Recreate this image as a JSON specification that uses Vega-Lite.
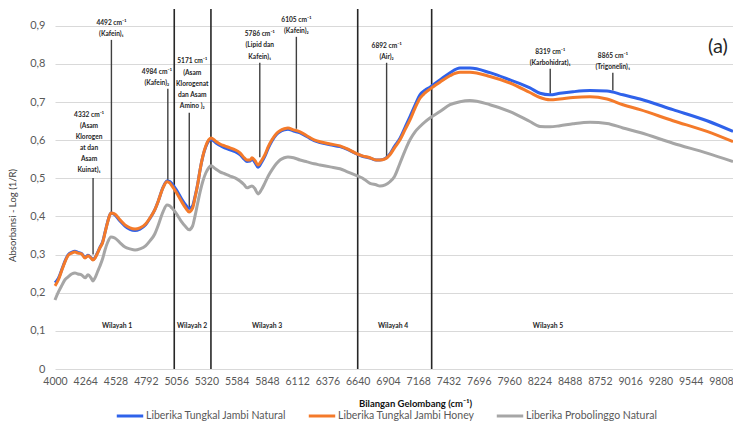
{
  "$schema": "https://vega.github.io/schema/vega-lite/v6.json",
  "width": 678,
  "height": 360,
  "autosize": {"type": "none"},
  "padding": {"left": 55, "top": 9, "right": 0, "bottom": 55},
  "background": "white",
  "config": {
    "view": {"stroke": null},
    "font": "Lato",
    "axisX": {
      "grid": false, "domain": false, "ticks": false, "tickCount": 40,
      "labelFont": "Lato", "labelFontSize": 10.5, "labelColor": "#595959",
      "labelPadding": 7, "labelOverlap": false, "labelFlush": false, "labelBound": false,
      "titleFont": "Lato", "titleFontSize": 9.5, "titleFontWeight": "bold", "titleColor": "#111111",
      "titleX": 360, "titleY": 34, "titleBaseline": "middle", "titleAlign": "center"
    },
    "axisY": {
      "grid": true, "gridColor": "#d9d9d9", "gridWidth": 1, "tickCount": 20,
      "domain": false, "ticks": false, "labelOverlap": false,
      "labelFont": "Lato", "labelFontSize": 11, "labelColor": "#595959", "labelPadding": 10,
      "titleFont": "Lato", "titleFontSize": 9.5, "titleFontWeight": "normal", "titleColor": "#404040",
      "titleX": -43, "titleY": 206, "titleAngle": -90, "titleBaseline": "middle", "titleAlign": "center"
    }
  },
  "datasets": {
    "spectra": [
      {"w": 4000, "natural": 0.226, "honey": 0.218, "probolinggo": 0.181},
      {"w": 4030, "natural": 0.238, "honey": 0.234, "probolinggo": 0.202},
      {"w": 4061, "natural": 0.262, "honey": 0.260, "probolinggo": 0.220},
      {"w": 4087, "natural": 0.283, "honey": 0.281, "probolinggo": 0.234},
      {"w": 4113, "natural": 0.299, "honey": 0.297, "probolinggo": 0.241},
      {"w": 4145, "natural": 0.306, "honey": 0.304, "probolinggo": 0.249},
      {"w": 4174, "natural": 0.309, "honey": 0.307, "probolinggo": 0.252},
      {"w": 4200, "natural": 0.306, "honey": 0.304, "probolinggo": 0.249},
      {"w": 4231, "natural": 0.303, "honey": 0.302, "probolinggo": 0.247},
      {"w": 4262, "natural": 0.293, "honey": 0.291, "probolinggo": 0.239},
      {"w": 4288, "natural": 0.298, "honey": 0.297, "probolinggo": 0.247},
      {"w": 4314, "natural": 0.292, "honey": 0.291, "probolinggo": 0.239},
      {"w": 4330, "natural": 0.287, "honey": 0.286, "probolinggo": 0.231},
      {"w": 4349, "natural": 0.292, "honey": 0.291, "probolinggo": 0.239},
      {"w": 4371, "natural": 0.305, "honey": 0.304, "probolinggo": 0.255},
      {"w": 4392, "natural": 0.319, "honey": 0.318, "probolinggo": 0.270},
      {"w": 4415, "natural": 0.333, "honey": 0.331, "probolinggo": 0.289},
      {"w": 4436, "natural": 0.358, "honey": 0.357, "probolinggo": 0.312},
      {"w": 4460, "natural": 0.387, "honey": 0.386, "probolinggo": 0.333},
      {"w": 4488, "natural": 0.409, "honey": 0.409, "probolinggo": 0.346},
      {"w": 4519, "natural": 0.405, "honey": 0.407, "probolinggo": 0.344},
      {"w": 4567, "natural": 0.388, "honey": 0.391, "probolinggo": 0.331},
      {"w": 4610, "natural": 0.375, "honey": 0.378, "probolinggo": 0.320},
      {"w": 4654, "natural": 0.366, "honey": 0.370, "probolinggo": 0.315},
      {"w": 4698, "natural": 0.363, "honey": 0.367, "probolinggo": 0.312},
      {"w": 4741, "natural": 0.367, "honey": 0.370, "probolinggo": 0.315},
      {"w": 4790, "natural": 0.378, "honey": 0.380, "probolinggo": 0.323},
      {"w": 4828, "natural": 0.395, "honey": 0.396, "probolinggo": 0.336},
      {"w": 4870, "natural": 0.417, "honey": 0.417, "probolinggo": 0.354},
      {"w": 4898, "natural": 0.438, "honey": 0.438, "probolinggo": 0.375},
      {"w": 4942, "natural": 0.476, "honey": 0.475, "probolinggo": 0.412},
      {"w": 4977, "natural": 0.493, "honey": 0.491, "probolinggo": 0.430},
      {"w": 5000, "natural": 0.492, "honey": 0.488, "probolinggo": 0.428},
      {"w": 5020, "natural": 0.486, "honey": 0.480, "probolinggo": 0.422},
      {"w": 5060, "natural": 0.469, "honey": 0.462, "probolinggo": 0.407},
      {"w": 5100, "natural": 0.448, "honey": 0.441, "probolinggo": 0.388},
      {"w": 5140, "natural": 0.430, "honey": 0.422, "probolinggo": 0.373},
      {"w": 5169, "natural": 0.421, "honey": 0.412, "probolinggo": 0.365},
      {"w": 5200, "natural": 0.428, "honey": 0.422, "probolinggo": 0.375},
      {"w": 5221, "natural": 0.452, "honey": 0.449, "probolinggo": 0.401},
      {"w": 5245, "natural": 0.486, "honey": 0.485, "probolinggo": 0.436},
      {"w": 5265, "natural": 0.522, "honey": 0.522, "probolinggo": 0.464},
      {"w": 5290, "natural": 0.558, "honey": 0.559, "probolinggo": 0.493},
      {"w": 5315, "natural": 0.583, "honey": 0.585, "probolinggo": 0.514},
      {"w": 5340, "natural": 0.598, "honey": 0.601, "probolinggo": 0.527},
      {"w": 5360, "natural": 0.602, "honey": 0.606, "probolinggo": 0.533},
      {"w": 5399, "natural": 0.594, "honey": 0.598, "probolinggo": 0.525},
      {"w": 5439, "natural": 0.586, "honey": 0.590, "probolinggo": 0.517},
      {"w": 5479, "natural": 0.580, "honey": 0.585, "probolinggo": 0.512},
      {"w": 5526, "natural": 0.575, "honey": 0.580, "probolinggo": 0.506},
      {"w": 5570, "natural": 0.570, "honey": 0.575, "probolinggo": 0.501},
      {"w": 5613, "natural": 0.562, "honey": 0.567, "probolinggo": 0.493},
      {"w": 5650, "natural": 0.550, "honey": 0.554, "probolinggo": 0.483},
      {"w": 5674, "natural": 0.544, "honey": 0.548, "probolinggo": 0.475},
      {"w": 5701, "natural": 0.545, "honey": 0.548, "probolinggo": 0.478},
      {"w": 5718, "natural": 0.550, "honey": 0.554, "probolinggo": 0.480},
      {"w": 5745, "natural": 0.541, "honey": 0.546, "probolinggo": 0.472},
      {"w": 5770, "natural": 0.529, "honey": 0.535, "probolinggo": 0.459},
      {"w": 5800, "natural": 0.541, "honey": 0.546, "probolinggo": 0.470},
      {"w": 5831, "natural": 0.558, "honey": 0.562, "probolinggo": 0.488},
      {"w": 5860, "natural": 0.579, "honey": 0.583, "probolinggo": 0.506},
      {"w": 5892, "natural": 0.598, "honey": 0.601, "probolinggo": 0.522},
      {"w": 5930, "natural": 0.614, "honey": 0.617, "probolinggo": 0.538},
      {"w": 5962, "natural": 0.622, "honey": 0.625, "probolinggo": 0.548},
      {"w": 6000, "natural": 0.627, "honey": 0.630, "probolinggo": 0.554},
      {"w": 6032, "natural": 0.629, "honey": 0.632, "probolinggo": 0.556},
      {"w": 6080, "natural": 0.624, "honey": 0.627, "probolinggo": 0.554},
      {"w": 6137, "natural": 0.619, "honey": 0.622, "probolinggo": 0.548},
      {"w": 6199, "natural": 0.609, "honey": 0.611, "probolinggo": 0.543},
      {"w": 6260, "natural": 0.599, "honey": 0.601, "probolinggo": 0.538},
      {"w": 6311, "natural": 0.594, "honey": 0.596, "probolinggo": 0.535},
      {"w": 6400, "natural": 0.588, "honey": 0.590, "probolinggo": 0.530},
      {"w": 6485, "natural": 0.583, "honey": 0.585, "probolinggo": 0.525},
      {"w": 6550, "natural": 0.576, "honey": 0.577, "probolinggo": 0.517},
      {"w": 6616, "natural": 0.566, "honey": 0.567, "probolinggo": 0.509},
      {"w": 6680, "natural": 0.558, "honey": 0.559, "probolinggo": 0.501},
      {"w": 6747, "natural": 0.553, "honey": 0.554, "probolinggo": 0.487},
      {"w": 6800, "natural": 0.548, "honey": 0.548, "probolinggo": 0.483},
      {"w": 6834, "natural": 0.548, "honey": 0.548, "probolinggo": 0.480},
      {"w": 6880, "natural": 0.552, "honey": 0.551, "probolinggo": 0.483},
      {"w": 6921, "natural": 0.564, "honey": 0.562, "probolinggo": 0.491},
      {"w": 6961, "natural": 0.584, "honey": 0.580, "probolinggo": 0.505},
      {"w": 7009, "natural": 0.605, "honey": 0.601, "probolinggo": 0.540},
      {"w": 7052, "natural": 0.633, "honey": 0.627, "probolinggo": 0.572},
      {"w": 7096, "natural": 0.662, "honey": 0.653, "probolinggo": 0.601},
      {"w": 7140, "natural": 0.692, "honey": 0.684, "probolinggo": 0.622},
      {"w": 7183, "natural": 0.719, "honey": 0.710, "probolinggo": 0.636},
      {"w": 7227, "natural": 0.731, "honey": 0.724, "probolinggo": 0.648},
      {"w": 7270, "natural": 0.739, "honey": 0.734, "probolinggo": 0.658},
      {"w": 7357, "natural": 0.758, "honey": 0.752, "probolinggo": 0.675},
      {"w": 7445, "natural": 0.777, "honey": 0.769, "probolinggo": 0.693},
      {"w": 7532, "natural": 0.789, "honey": 0.778, "probolinggo": 0.701},
      {"w": 7619, "natural": 0.789, "honey": 0.778, "probolinggo": 0.704},
      {"w": 7793, "natural": 0.777, "honey": 0.767, "probolinggo": 0.693},
      {"w": 7968, "natural": 0.758, "honey": 0.750, "probolinggo": 0.675},
      {"w": 8142, "natural": 0.737, "honey": 0.725, "probolinggo": 0.649},
      {"w": 8230, "natural": 0.723, "honey": 0.712, "probolinggo": 0.636},
      {"w": 8317, "natural": 0.719, "honey": 0.706, "probolinggo": 0.635},
      {"w": 8404, "natural": 0.723, "honey": 0.708, "probolinggo": 0.638},
      {"w": 8517, "natural": 0.727, "honey": 0.712, "probolinggo": 0.643},
      {"w": 8666, "natural": 0.730, "honey": 0.714, "probolinggo": 0.647},
      {"w": 8814, "natural": 0.729, "honey": 0.708, "probolinggo": 0.644},
      {"w": 8953, "natural": 0.719, "honey": 0.693, "probolinggo": 0.632},
      {"w": 9102, "natural": 0.708, "honey": 0.680, "probolinggo": 0.620},
      {"w": 9389, "natural": 0.680, "honey": 0.651, "probolinggo": 0.592},
      {"w": 9686, "natural": 0.651, "honey": 0.623, "probolinggo": 0.566},
      {"w": 9913, "natural": 0.623, "honey": 0.596, "probolinggo": 0.544}
    ],
    "dividers": [{"w": 5040}, {"w": 5360}, {"w": 6640}, {"w": 7285}],
    "regions": [
      {"w": 4541, "name": "Wilayah 1"},
      {"w": 5195, "name": "Wilayah 2"},
      {"w": 5849, "name": "Wilayah 3"},
      {"w": 6948, "name": "Wilayah 4"},
      {"w": 8299, "name": "Wilayah 5"}
    ],
    "peaks": [
      {"w": 4332, "top": 0.501, "bottom": 0.300, "label": "4332 cm⁻¹\n(Asam\nKlorogen\nat dan\nAsam\nKuinat)₁"},
      {"w": 4492, "top": 0.863, "bottom": 0.410, "label": "4492 cm⁻¹\n(Kafein)₁"},
      {"w": 4984, "top": 0.735, "bottom": 0.490, "label": "4984 cm⁻¹\n(Kafein)₂"},
      {"w": 5171, "top": 0.672, "bottom": 0.420, "label": "5171 cm⁻¹\n(Asam\nKlorogenat\ndan Asam\nAmino )₂"},
      {"w": 5786, "top": 0.803, "bottom": 0.555, "label": "5786 cm⁻¹\n(Lipid dan\nKafein)₁"},
      {"w": 6105, "top": 0.871, "bottom": 0.630, "label": "6105 cm⁻¹\n(Kafein)₂"},
      {"w": 6892, "top": 0.803, "bottom": 0.555, "label": "6892 cm⁻¹\n(Air)₂"},
      {"w": 8319, "top": 0.787, "bottom": 0.722, "label": "8319 cm⁻¹\n(Karbohidrat)₁"},
      {"w": 8865, "top": 0.777, "bottom": 0.730, "label": "8865 cm⁻¹\n(Trigonelin)₁"}
    ],
    "panel": [{"tag": "(a)"}]
  },
  "layer": [
    {
      "data": {"name": "dividers"},
      "mark": {"type": "rule", "color": "#262626", "strokeWidth": 1.6},
      "encoding": {
        "x": {"field": "w", "type": "quantitative", "scale": {"domain": [4000, 9913], "nice": false, "zero": false}, "axis": {"values": [4000, 4264, 4528, 4792, 5056, 5320, 5584, 5848, 6112, 6376, 6640, 6904, 7168, 7432, 7696, 7960, 8224, 8488, 8752, 9016, 9280, 9544, 9808], "format": "d", "labelOverlap": false, "tickCount": 40}, "title": "Bilangan Gelombang (cm⁻¹)"}
      }
    },
    {
      "data": {"name": "peaks"},
      "mark": {"type": "rule", "color": "#404040", "strokeWidth": 1.4},
      "encoding": {
        "x": {"field": "w", "type": "quantitative", "scale": {"domain": [4000, 9913], "nice": false, "zero": false}, "axis": {"values": [4000, 4264, 4528, 4792, 5056, 5320, 5584, 5848, 6112, 6376, 6640, 6904, 7168, 7432, 7696, 7960, 8224, 8488, 8752, 9016, 9280, 9544, 9808], "format": "d", "labelOverlap": false, "tickCount": 40}, "title": "Bilangan Gelombang (cm⁻¹)"},
        "y": {"field": "top", "type": "quantitative", "scale": {"domain": [0, 0.944], "nice": false, "zero": true}, "axis": {"values": [0, 0.1, 0.2, 0.3, 0.4, 0.5, 0.6, 0.7, 0.8, 0.9], "labelExpr": "datum.value == 0 ? '0' : replace(format(datum.value, '.1f'), '.', ',')", "labelOverlap": false, "grid": true, "tickCount": 20}, "title": "Absorbansi - Log (1/R)"},
        "y2": {"field": "bottom"}
      }
    },
    {
      "data": {"name": "spectra"},
      "mark": {"type": "line", "strokeWidth": 3, "interpolate": "monotone"},
      "encoding": {
        "x": {"field": "w", "type": "quantitative", "scale": {"domain": [4000, 9913], "nice": false, "zero": false}, "axis": {"values": [4000, 4264, 4528, 4792, 5056, 5320, 5584, 5848, 6112, 6376, 6640, 6904, 7168, 7432, 7696, 7960, 8224, 8488, 8752, 9016, 9280, 9544, 9808], "format": "d", "labelOverlap": false, "tickCount": 40}, "title": "Bilangan Gelombang (cm⁻¹)"},
        "y": {"field": "natural", "type": "quantitative", "scale": {"domain": [0, 0.944], "nice": false, "zero": true}, "axis": {"values": [0, 0.1, 0.2, 0.3, 0.4, 0.5, 0.6, 0.7, 0.8, 0.9], "labelExpr": "datum.value == 0 ? '0' : replace(format(datum.value, '.1f'), '.', ',')", "labelOverlap": false, "grid": true, "tickCount": 20}, "title": "Absorbansi - Log (1/R)"},
        "color": {
          "datum": "Liberika Tungkal Jambi Natural", "type": "nominal",
          "scale": {"domain": ["Liberika Tungkal Jambi Natural", "Liberika Tungkal Jambi Honey", "Liberika Probolinggo Natural"], "range": ["#2f62ea", "#f47a2a", "#a6a6a6"]},
          "legend": {
            "orient": "none", "legendX": 60, "legendY": 392, "direction": "horizontal", "title": null,
            "symbolType": "stroke", "symbolStrokeWidth": 3, "symbolSize": 700,
            "labelFont": "Lato", "labelFontSize": 10.5, "labelColor": "#595959", "labelOffset": 1,
            "columnPadding": 15
          }
        }
      }
    },
    {
      "data": {"name": "spectra"},
      "mark": {"type": "line", "strokeWidth": 3, "interpolate": "monotone"},
      "encoding": {
        "x": {"field": "w", "type": "quantitative", "scale": {"domain": [4000, 9913], "nice": false, "zero": false}, "axis": {"values": [4000, 4264, 4528, 4792, 5056, 5320, 5584, 5848, 6112, 6376, 6640, 6904, 7168, 7432, 7696, 7960, 8224, 8488, 8752, 9016, 9280, 9544, 9808], "format": "d", "labelOverlap": false, "tickCount": 40}, "title": "Bilangan Gelombang (cm⁻¹)"},
        "y": {"field": "probolinggo", "type": "quantitative", "scale": {"domain": [0, 0.944], "nice": false, "zero": true}, "axis": {"values": [0, 0.1, 0.2, 0.3, 0.4, 0.5, 0.6, 0.7, 0.8, 0.9], "labelExpr": "datum.value == 0 ? '0' : replace(format(datum.value, '.1f'), '.', ',')", "labelOverlap": false, "grid": true, "tickCount": 20}, "title": "Absorbansi - Log (1/R)"},
        "color": {"datum": "Liberika Probolinggo Natural", "type": "nominal"}
      }
    },
    {
      "data": {"name": "spectra"},
      "mark": {"type": "line", "strokeWidth": 3, "interpolate": "monotone"},
      "encoding": {
        "x": {"field": "w", "type": "quantitative", "scale": {"domain": [4000, 9913], "nice": false, "zero": false}, "axis": {"values": [4000, 4264, 4528, 4792, 5056, 5320, 5584, 5848, 6112, 6376, 6640, 6904, 7168, 7432, 7696, 7960, 8224, 8488, 8752, 9016, 9280, 9544, 9808], "format": "d", "labelOverlap": false, "tickCount": 40}, "title": "Bilangan Gelombang (cm⁻¹)"},
        "y": {"field": "honey", "type": "quantitative", "scale": {"domain": [0, 0.944], "nice": false, "zero": true}, "axis": {"values": [0, 0.1, 0.2, 0.3, 0.4, 0.5, 0.6, 0.7, 0.8, 0.9], "labelExpr": "datum.value == 0 ? '0' : replace(format(datum.value, '.1f'), '.', ',')", "labelOverlap": false, "grid": true, "tickCount": 20}, "title": "Absorbansi - Log (1/R)"},
        "color": {"datum": "Liberika Tungkal Jambi Honey", "type": "nominal"}
      }
    },
    {
      "data": {"name": "peaks"},
      "transform": [{"filter": {"field": "w", "oneOf": [4492, 6105, 6892, 8319, 8865]}}],
      "mark": {"type": "text", "font": "Lato", "fontSize": 6.6, "fontWeight": "bold", "color": "#262626", "baseline": "bottom", "align": "center", "lineBreak": "\n", "lineHeight": 11.3, "dy": -14},
      "encoding": {
        "x": {"field": "w", "type": "quantitative", "scale": {"domain": [4000, 9913], "nice": false, "zero": false}, "title": "Bilangan Gelombang (cm⁻¹)"},
        "y": {"field": "top", "type": "quantitative", "scale": {"domain": [0, 0.944], "nice": false, "zero": true}, "title": "Absorbansi - Log (1/R)"},
        "text": {"field": "label"}
      }
    },
    {
      "data": {"name": "peaks"},
      "transform": [{"filter": "datum.w == 4984"}],
      "mark": {"type": "text", "font": "Lato", "fontSize": 6.6, "fontWeight": "bold", "color": "#262626", "baseline": "bottom", "align": "center", "lineBreak": "\n", "lineHeight": 11.3, "dy": -14, "dx": -11},
      "encoding": {
        "x": {"field": "w", "type": "quantitative", "scale": {"domain": [4000, 9913], "nice": false, "zero": false}, "title": "Bilangan Gelombang (cm⁻¹)"},
        "y": {"field": "top", "type": "quantitative", "scale": {"domain": [0, 0.944], "nice": false, "zero": true}, "title": "Absorbansi - Log (1/R)"},
        "text": {"field": "label"}
      }
    },
    {
      "data": {"name": "peaks"},
      "transform": [{"filter": "datum.w == 5786"}],
      "mark": {"type": "text", "font": "Lato", "fontSize": 6.6, "fontWeight": "bold", "color": "#262626", "baseline": "bottom", "align": "center", "lineBreak": "\n", "lineHeight": 11.3, "dy": -25.6},
      "encoding": {
        "x": {"field": "w", "type": "quantitative", "scale": {"domain": [4000, 9913], "nice": false, "zero": false}, "title": "Bilangan Gelombang (cm⁻¹)"},
        "y": {"field": "top", "type": "quantitative", "scale": {"domain": [0, 0.944], "nice": false, "zero": true}, "title": "Absorbansi - Log (1/R)"},
        "text": {"field": "label"}
      }
    },
    {
      "data": {"name": "peaks"},
      "transform": [{"filter": "datum.w == 5171"}],
      "mark": {"type": "text", "font": "Lato", "fontSize": 6.6, "fontWeight": "bold", "color": "#262626", "baseline": "bottom", "align": "center", "lineBreak": "\n", "lineHeight": 11.3, "dy": -48.5, "dx": 3},
      "encoding": {
        "x": {"field": "w", "type": "quantitative", "scale": {"domain": [4000, 9913], "nice": false, "zero": false}, "title": "Bilangan Gelombang (cm⁻¹)"},
        "y": {"field": "top", "type": "quantitative", "scale": {"domain": [0, 0.944], "nice": false, "zero": true}, "title": "Absorbansi - Log (1/R)"},
        "text": {"field": "label"}
      }
    },
    {
      "data": {"name": "peaks"},
      "transform": [{"filter": "datum.w == 4332"}],
      "mark": {"type": "text", "font": "Lato", "fontSize": 6.6, "fontWeight": "bold", "color": "#262626", "baseline": "bottom", "align": "center", "lineBreak": "\n", "lineHeight": 11.1, "dy": -60, "dx": -4},
      "encoding": {
        "x": {"field": "w", "type": "quantitative", "scale": {"domain": [4000, 9913], "nice": false, "zero": false}, "title": "Bilangan Gelombang (cm⁻¹)"},
        "y": {"field": "top", "type": "quantitative", "scale": {"domain": [0, 0.944], "nice": false, "zero": true}, "title": "Absorbansi - Log (1/R)"},
        "text": {"field": "label"}
      }
    },
    {
      "data": {"name": "regions"},
      "mark": {"type": "text", "font": "Lato", "fontSize": 6.8, "fontWeight": "bold", "color": "#262626", "baseline": "middle", "align": "center"},
      "encoding": {
        "x": {"field": "w", "type": "quantitative", "scale": {"domain": [4000, 9913], "nice": false, "zero": false}, "title": "Bilangan Gelombang (cm⁻¹)"},
        "y": {"datum": 0.113, "type": "quantitative", "scale": {"domain": [0, 0.944], "nice": false, "zero": true}, "title": "Absorbansi - Log (1/R)"},
        "text": {"field": "name"}
      }
    },
    {
      "data": {"name": "panel"},
      "mark": {"type": "text", "font": "Lato", "fontSize": 20, "color": "#262626", "baseline": "middle", "align": "center"},
      "encoding": {
        "x": {"datum": 9782, "type": "quantitative", "scale": {"domain": [4000, 9913], "nice": false, "zero": false}, "title": "Bilangan Gelombang (cm⁻¹)"},
        "y": {"datum": 0.845, "type": "quantitative", "scale": {"domain": [0, 0.944], "nice": false, "zero": true}, "title": "Absorbansi - Log (1/R)"},
        "text": {"field": "tag"}
      }
    }
  ]
}
